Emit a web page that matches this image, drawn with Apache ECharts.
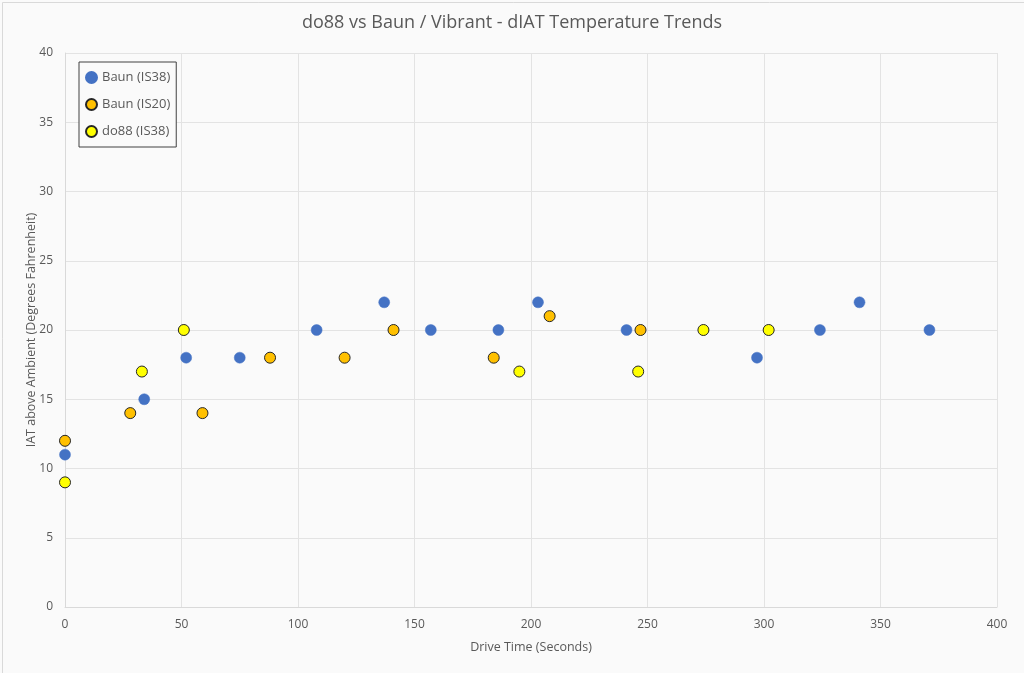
<!DOCTYPE html>
<html><head><meta charset="utf-8">
<script src="https://cdn.jsdelivr.net/npm/echarts@6/dist/echarts.min.js"></script>
<style>html,body{margin:0;padding:0;background:#fff}#c{width:1024px;height:673px}</style>
</head><body><div id="c"></div>
<script>
const baunIS38 = [[0,11],[34,15],[52,18],[75,18],[108,20],[137,22],[157,20],[186,20],[203,22],[241,20],[297,18],[324,20],[341,22],[371,20]];
const baunIS20 = [[0,12],[28,14],[59,14],[88,18],[120,18],[141,20],[184,18],[208,21],[247,20]];
const do88IS38 = [[0,9],[33,17],[51,20],[195,17],[246,17],[274,20],[302,20]];
const seriesNames = ['Baun (IS38)','Baun (IS20)','do88 (IS38)'];
const titleText = 'do88 vs Baun / Vibrant - dIAT Temperature Trends';
const xName = 'Drive Time (Seconds)';
const yName = 'IAT above Ambient (Degrees Fahrenheit)';
const font = '"Open Sans", "Noto Sans", sans-serif';
const chart = echarts.init(document.getElementById('c'));
chart.setOption({
  backgroundColor: '#fafafa',
  animation: false,
  graphic: [{type: 'rect', left: 0, top: 0, shape: {width: 1023, height: 672}, style: {fill: 'none', stroke: '#d9d9d9', lineWidth: 1}, silent: true}],
  title: {text: titleText, left: 'center', top: 9, textStyle: {fontFamily: font, fontSize: 18, fontWeight: 'normal', color: '#595959'}},
  legend: {
    orient: 'vertical', left: 79, top: 62, itemGap: 14, itemWidth: 11, itemHeight: 11,
    borderColor: '#404040', borderWidth: 1, padding: [9, 6, 9, 6], backgroundColor: '#fafafa',
    textStyle: {fontFamily: font, fontSize: 13, color: '#595959'},
    data: seriesNames
  },
  grid: {left: 65, right: 27, top: 53, bottom: 66},
  xAxis: {
    type: 'value', min: 0, max: 400, interval: 50,
    name: xName, nameLocation: 'middle', nameGap: 34, nameMoveOverlap: false,
    nameTextStyle: {fontFamily: font, fontSize: 12.5, color: '#595959'},
    axisLine: {show: true, lineStyle: {color: '#d9d9d9'}},
    axisTick: {show: false},
    axisLabel: {fontFamily: font, fontSize: 12, color: '#595959', margin: 12},
    splitLine: {show: true, lineStyle: {color: '#e3e3e3'}}
  },
  yAxis: {
    type: 'value', min: 0, max: 40, interval: 5,
    name: yName, nameLocation: 'middle', nameGap: 27, nameMoveOverlap: false,
    nameTextStyle: {fontFamily: font, fontSize: 12.5, color: '#595959'},
    axisLine: {show: true, lineStyle: {color: '#d9d9d9'}},
    axisTick: {show: false},
    axisLabel: {fontFamily: font, fontSize: 12, color: '#595959', margin: 12},
    splitLine: {show: true, lineStyle: {color: '#e3e3e3'}}
  },
  series: [
    {name: seriesNames[0], type: 'scatter', data: baunIS38, symbolSize: 11,
     itemStyle: {color: '#4472C4', borderColor: '#4472C4', borderWidth: 0.5, opacity: 1}},
    {name: seriesNames[1], type: 'scatter', data: baunIS20, symbolSize: 11,
     itemStyle: {color: '#FFC000', borderColor: '#262626', borderWidth: 1, opacity: 1}},
    {name: seriesNames[2], type: 'scatter', data: do88IS38, symbolSize: 11,
     itemStyle: {color: '#FFFF00', borderColor: '#262626', borderWidth: 1, opacity: 1}}
  ]
});
</script></body></html>
